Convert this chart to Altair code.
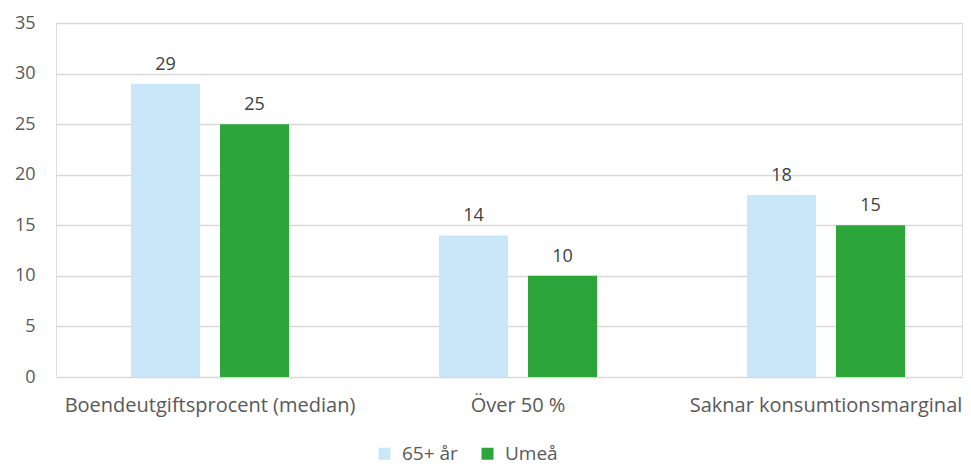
import altair as alt
import pandas as pd

categories = ["Boendeutgiftsprocent (median)", "Över 50 %", "Saknar konsumtionsmarginal"]
series = ["65+ år", "Umeå"]
values_65 = [29, 14, 18]
values_umea = [25, 10, 15]
y_ticks = [0, 5, 10, 15, 20, 25, 30, 35]

rows = []
for c, a, b in zip(categories, values_65, values_umea):
    rows.append({"kategori": c, "serie": series[0], "varde": a})
    rows.append({"kategori": c, "serie": series[1], "varde": b})
df = pd.DataFrame(rows)

FONT = "Open Sans"
FS_NUM = 18
FS_TXT = 20
TXT = "#595959"

base = alt.Chart(df).encode(
    x=alt.X("kategori:N", sort=categories,
            scale=alt.Scale(range=[0, 924], paddingInner=0.487, paddingOuter=0.2435),
            axis=alt.Axis(title=None, labelAngle=0, domain=False, ticks=False, tickSize=0,
                          labelPadding=18, labelFontSize=FS_TXT, labelColor=TXT, labelFont=FONT,
                          labelLimit=400)),
    xOffset=alt.XOffset("serie:N", sort=series,
                        scale=alt.Scale(paddingInner=0.2247, paddingOuter=0)),
    y=alt.Y("varde:Q", scale=alt.Scale(domain=[0, 35], nice=False),
            axis=alt.Axis(title=None, values=y_ticks, domain=False, ticks=False, tickSize=0,
                          labelPadding=21, labelFontSize=FS_NUM, labelColor=TXT, labelFont=FONT,
                          gridColor="#D9D9D9", gridWidth=1.3)),
)

bars = base.mark_bar().encode(
    color=alt.Color("serie:N", sort=series,
                    scale=alt.Scale(domain=series, range=["#C9E7F8", "#2CA53A"]),
                    legend=alt.Legend(title=None, orient="none", legendX=319, legendY=421,
                                      direction="horizontal", symbolType="square",
                                      symbolSize=144, symbolStrokeWidth=0,
                                      labelFontSize=19, labelFont=FONT, labelColor=TXT,
                                      labelOffset=8, columnPadding=20, padding=0))
)

labels = base.mark_text(baseline="alphabetic", dy=-14, fontSize=FS_NUM, font=FONT,
                        color="#404040").encode(text="varde:Q")

chart = (bars + labels).properties(
    width=906, height=354,
    autosize=alt.AutoSizeParams(type="none"),
    padding={"left": 48, "top": 15, "right": 1, "bottom": 100},
).configure_view(stroke=None).configure(background="white")

chart.save("out.html", embed_options={"renderer": "svg", "actions": False})
